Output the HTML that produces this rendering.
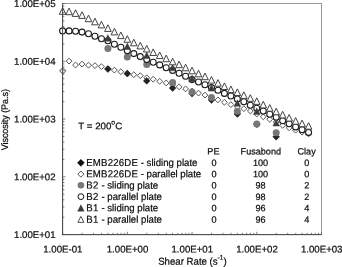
<!DOCTYPE html>
<html><head><meta charset="utf-8"><title>Viscosity vs Shear Rate</title>
<style>html,body{margin:0;padding:0;background:#fff}svg{display:block;filter:blur(0.3px)}text{font-family:"Liberation Sans",sans-serif;font-size:10px;fill:#0c0c0c;stroke:#0c0c0c;stroke-width:0.22px}</style>
</head><body>
<svg width="342" height="267" viewBox="0 0 342 267">
<rect width="342" height="267" fill="#fff"/>
<rect x="62.6" y="3.5" width="258.9" height="231.1" fill="#fff" stroke="#999" stroke-width="1"/>
<path d="M62.75 67.85L65.75 70.85L62.75 73.85L59.75 70.85Z" fill="#fff" stroke="#7c7c7c" stroke-width="1.15"/>
<path d="M69.07 58.20L71.97 61.10L69.07 64.00L66.17 61.10Z" fill="#fff" stroke="#383838" stroke-width="0.85"/>
<path d="M75.55 62.10L78.45 65.00L75.55 67.90L72.64 65.00Z" fill="#fff" stroke="#383838" stroke-width="0.85"/>
<path d="M82.02 61.20L84.92 64.10L82.02 67.00L79.12 64.10Z" fill="#fff" stroke="#383838" stroke-width="0.85"/>
<path d="M88.49 62.30L91.39 65.20L88.49 68.10L85.59 65.20Z" fill="#fff" stroke="#383838" stroke-width="0.85"/>
<path d="M94.96 62.70L97.86 65.60L94.96 68.50L92.06 65.60Z" fill="#fff" stroke="#383838" stroke-width="0.85"/>
<path d="M101.44 63.70L104.34 66.60L101.44 69.50L98.53 66.60Z" fill="#fff" stroke="#383838" stroke-width="0.85"/>
<path d="M107.91 65.70L110.81 68.60L107.91 71.50L105.01 68.60Z" fill="#fff" stroke="#383838" stroke-width="0.85"/>
<path d="M114.38 67.20L117.28 70.10L114.38 73.00L111.48 70.10Z" fill="#fff" stroke="#383838" stroke-width="0.85"/>
<path d="M120.85 68.80L123.75 71.70L120.85 74.60L117.95 71.70Z" fill="#fff" stroke="#383838" stroke-width="0.85"/>
<path d="M127.32 70.30L130.22 73.20L127.32 76.10L124.42 73.20Z" fill="#fff" stroke="#383838" stroke-width="0.85"/>
<path d="M133.80 71.80L136.70 74.70L133.80 77.60L130.90 74.70Z" fill="#fff" stroke="#383838" stroke-width="0.85"/>
<path d="M140.27 72.80L143.17 75.70L140.27 78.60L137.37 75.70Z" fill="#fff" stroke="#383838" stroke-width="0.85"/>
<path d="M146.74 74.90L149.64 77.80L146.74 80.70L143.84 77.80Z" fill="#fff" stroke="#383838" stroke-width="0.85"/>
<path d="M153.22 76.30L156.12 79.20L153.22 82.10L150.31 79.20Z" fill="#fff" stroke="#383838" stroke-width="0.85"/>
<path d="M159.69 78.40L162.59 81.30L159.69 84.20L156.79 81.30Z" fill="#fff" stroke="#383838" stroke-width="0.85"/>
<path d="M166.16 80.00L169.06 82.90L166.16 85.80L163.26 82.90Z" fill="#fff" stroke="#383838" stroke-width="0.85"/>
<path d="M172.63 82.10L175.53 85.00L172.63 87.90L169.73 85.00Z" fill="#fff" stroke="#383838" stroke-width="0.85"/>
<path d="M179.10 83.90L182.00 86.80L179.10 89.70L176.20 86.80Z" fill="#fff" stroke="#383838" stroke-width="0.85"/>
<path d="M185.58 86.00L188.48 88.90L185.58 91.80L182.68 88.90Z" fill="#fff" stroke="#383838" stroke-width="0.85"/>
<path d="M192.05 88.10L194.95 91.00L192.05 93.90L189.15 91.00Z" fill="#fff" stroke="#383838" stroke-width="0.85"/>
<path d="M198.52 90.20L201.42 93.10L198.52 96.00L195.62 93.10Z" fill="#fff" stroke="#383838" stroke-width="0.85"/>
<path d="M204.99 92.20L207.89 95.10L204.99 98.00L202.09 95.10Z" fill="#fff" stroke="#383838" stroke-width="0.85"/>
<path d="M211.47 94.60L214.37 97.50L211.47 100.40L208.57 97.50Z" fill="#fff" stroke="#383838" stroke-width="0.85"/>
<path d="M217.94 97.00L220.84 99.90L217.94 102.80L215.04 99.90Z" fill="#fff" stroke="#383838" stroke-width="0.85"/>
<path d="M224.41 99.40L227.31 102.30L224.41 105.20L221.51 102.30Z" fill="#fff" stroke="#383838" stroke-width="0.85"/>
<path d="M230.88 101.70L233.78 104.60L230.88 107.50L227.98 104.60Z" fill="#fff" stroke="#383838" stroke-width="0.85"/>
<path d="M237.36 104.10L240.26 107.00L237.36 109.90L234.46 107.00Z" fill="#fff" stroke="#383838" stroke-width="0.85"/>
<path d="M243.83 105.80L246.73 108.70L243.83 111.60L240.93 108.70Z" fill="#fff" stroke="#383838" stroke-width="0.85"/>
<path d="M250.30 108.10L253.20 111.00L250.30 113.90L247.40 111.00Z" fill="#fff" stroke="#383838" stroke-width="0.85"/>
<path d="M256.77 111.10L259.67 114.00L256.77 116.90L253.87 114.00Z" fill="#fff" stroke="#383838" stroke-width="0.85"/>
<path d="M263.25 113.90L266.15 116.80L263.25 119.70L260.35 116.80Z" fill="#fff" stroke="#383838" stroke-width="0.85"/>
<path d="M269.72 116.40L272.62 119.30L269.72 122.20L266.82 119.30Z" fill="#fff" stroke="#383838" stroke-width="0.85"/>
<path d="M276.19 119.10L279.09 122.00L276.19 124.90L273.29 122.00Z" fill="#fff" stroke="#383838" stroke-width="0.85"/>
<path d="M282.66 122.50L285.56 125.40L282.66 128.30L279.76 125.40Z" fill="#fff" stroke="#383838" stroke-width="0.85"/>
<path d="M289.14 125.00L292.04 127.90L289.14 130.80L286.24 127.90Z" fill="#fff" stroke="#383838" stroke-width="0.85"/>
<path d="M295.61 127.30L298.51 130.20L295.61 133.10L292.71 130.20Z" fill="#fff" stroke="#383838" stroke-width="0.85"/>
<path d="M302.08 129.30L304.98 132.20L302.08 135.10L299.18 132.20Z" fill="#fff" stroke="#383838" stroke-width="0.85"/>
<path d="M308.56 131.00L311.45 133.90L308.56 136.80L305.66 133.90Z" fill="#fff" stroke="#383838" stroke-width="0.85"/>
<path d="M107.91 65.70L111.31 69.10L107.91 72.50L104.51 69.10Z" fill="#222" stroke="#222" stroke-width="0.5"/>
<path d="M127.32 70.30L130.72 73.70L127.32 77.10L123.92 73.70Z" fill="#222" stroke="#222" stroke-width="0.5"/>
<path d="M146.74 77.50L150.14 80.90L146.74 84.30L143.34 80.90Z" fill="#222" stroke="#222" stroke-width="0.5"/>
<path d="M172.63 84.70L176.03 88.10L172.63 91.50L169.23 88.10Z" fill="#222" stroke="#222" stroke-width="0.5"/>
<path d="M192.05 90.30L195.45 93.70L192.05 97.10L188.65 93.70Z" fill="#222" stroke="#222" stroke-width="0.5"/>
<path d="M211.47 96.60L214.87 100.00L211.47 103.40L208.07 100.00Z" fill="#222" stroke="#222" stroke-width="0.5"/>
<path d="M237.36 110.60L240.76 114.00L237.36 117.40L233.96 114.00Z" fill="#222" stroke="#222" stroke-width="0.5"/>
<path d="M256.77 120.90L260.17 124.30L256.77 127.70L253.37 124.30Z" fill="#222" stroke="#222" stroke-width="0.5"/>
<path d="M276.19 133.40L279.59 136.80L276.19 140.20L272.79 136.80Z" fill="#222" stroke="#222" stroke-width="0.5"/>
<circle cx="107.91" cy="48.40" r="3.5" fill="#777" stroke="none" stroke-width="0"/>
<circle cx="127.32" cy="57.10" r="3.5" fill="#777" stroke="none" stroke-width="0"/>
<circle cx="146.74" cy="64.40" r="3.5" fill="#777" stroke="none" stroke-width="0"/>
<circle cx="172.63" cy="82.50" r="3.5" fill="#777" stroke="none" stroke-width="0"/>
<circle cx="192.05" cy="92.00" r="3.5" fill="#777" stroke="none" stroke-width="0"/>
<circle cx="211.47" cy="97.50" r="3.5" fill="#777" stroke="none" stroke-width="0"/>
<circle cx="237.36" cy="111.30" r="3.5" fill="#777" stroke="none" stroke-width="0"/>
<circle cx="256.77" cy="124.10" r="3.5" fill="#777" stroke="none" stroke-width="0"/>
<circle cx="276.19" cy="132.80" r="3.5" fill="#777" stroke="none" stroke-width="0"/>
<circle cx="62.60" cy="30.90" r="3.0" fill="#fff" stroke="#1a1a1a" stroke-width="1.08"/>
<circle cx="69.07" cy="30.90" r="3.0" fill="#fff" stroke="#1a1a1a" stroke-width="1.08"/>
<circle cx="75.55" cy="31.30" r="3.0" fill="#fff" stroke="#1a1a1a" stroke-width="1.08"/>
<circle cx="82.02" cy="32.10" r="3.0" fill="#fff" stroke="#1a1a1a" stroke-width="1.08"/>
<circle cx="88.49" cy="33.80" r="3.0" fill="#fff" stroke="#1a1a1a" stroke-width="1.08"/>
<circle cx="94.96" cy="36.20" r="3.0" fill="#fff" stroke="#1a1a1a" stroke-width="1.08"/>
<circle cx="101.44" cy="38.70" r="3.0" fill="#fff" stroke="#1a1a1a" stroke-width="1.08"/>
<circle cx="107.91" cy="40.80" r="3.0" fill="#fff" stroke="#1a1a1a" stroke-width="1.08"/>
<circle cx="114.38" cy="44.30" r="3.0" fill="#fff" stroke="#1a1a1a" stroke-width="1.08"/>
<circle cx="120.85" cy="47.30" r="3.0" fill="#fff" stroke="#1a1a1a" stroke-width="1.08"/>
<circle cx="127.32" cy="50.80" r="3.0" fill="#fff" stroke="#1a1a1a" stroke-width="1.08"/>
<circle cx="133.80" cy="53.60" r="3.0" fill="#fff" stroke="#1a1a1a" stroke-width="1.08"/>
<circle cx="140.27" cy="56.60" r="3.0" fill="#fff" stroke="#1a1a1a" stroke-width="1.08"/>
<circle cx="146.74" cy="59.60" r="3.0" fill="#fff" stroke="#1a1a1a" stroke-width="1.08"/>
<circle cx="153.22" cy="62.20" r="3.0" fill="#fff" stroke="#1a1a1a" stroke-width="1.08"/>
<circle cx="159.69" cy="64.90" r="3.0" fill="#fff" stroke="#1a1a1a" stroke-width="1.08"/>
<circle cx="166.16" cy="67.80" r="3.0" fill="#fff" stroke="#1a1a1a" stroke-width="1.08"/>
<circle cx="172.63" cy="70.40" r="3.0" fill="#fff" stroke="#1a1a1a" stroke-width="1.08"/>
<circle cx="179.10" cy="73.20" r="3.0" fill="#fff" stroke="#1a1a1a" stroke-width="1.08"/>
<circle cx="185.58" cy="76.30" r="3.0" fill="#fff" stroke="#1a1a1a" stroke-width="1.08"/>
<circle cx="192.05" cy="79.60" r="3.0" fill="#fff" stroke="#1a1a1a" stroke-width="1.08"/>
<circle cx="198.52" cy="82.00" r="3.0" fill="#fff" stroke="#1a1a1a" stroke-width="1.08"/>
<circle cx="204.99" cy="84.70" r="3.0" fill="#fff" stroke="#1a1a1a" stroke-width="1.08"/>
<circle cx="211.47" cy="87.60" r="3.0" fill="#fff" stroke="#1a1a1a" stroke-width="1.08"/>
<circle cx="217.94" cy="90.30" r="3.0" fill="#fff" stroke="#1a1a1a" stroke-width="1.08"/>
<circle cx="224.41" cy="93.40" r="3.0" fill="#fff" stroke="#1a1a1a" stroke-width="1.08"/>
<circle cx="230.88" cy="96.00" r="3.0" fill="#fff" stroke="#1a1a1a" stroke-width="1.08"/>
<circle cx="237.36" cy="99.00" r="3.0" fill="#fff" stroke="#1a1a1a" stroke-width="1.08"/>
<circle cx="243.83" cy="101.80" r="3.0" fill="#fff" stroke="#1a1a1a" stroke-width="1.08"/>
<circle cx="250.30" cy="105.30" r="3.0" fill="#fff" stroke="#1a1a1a" stroke-width="1.08"/>
<circle cx="256.77" cy="108.20" r="3.0" fill="#fff" stroke="#1a1a1a" stroke-width="1.08"/>
<circle cx="263.25" cy="111.00" r="3.0" fill="#fff" stroke="#1a1a1a" stroke-width="1.08"/>
<circle cx="269.72" cy="114.20" r="3.0" fill="#fff" stroke="#1a1a1a" stroke-width="1.08"/>
<circle cx="276.19" cy="117.30" r="3.0" fill="#fff" stroke="#1a1a1a" stroke-width="1.08"/>
<circle cx="282.66" cy="120.70" r="3.0" fill="#fff" stroke="#1a1a1a" stroke-width="1.08"/>
<circle cx="289.14" cy="123.80" r="3.0" fill="#fff" stroke="#1a1a1a" stroke-width="1.08"/>
<circle cx="295.61" cy="126.90" r="3.0" fill="#fff" stroke="#1a1a1a" stroke-width="1.08"/>
<circle cx="302.08" cy="129.70" r="3.0" fill="#fff" stroke="#1a1a1a" stroke-width="1.08"/>
<circle cx="308.56" cy="132.40" r="3.0" fill="#fff" stroke="#1a1a1a" stroke-width="1.08"/>
<path d="M107.91 34.60L111.21 41.20L104.61 41.20Z" fill="#3c3c3c" stroke="#3c3c3c" stroke-width="0.4" stroke-linejoin="miter"/>
<path d="M127.32 42.90L130.62 49.50L124.02 49.50Z" fill="#3c3c3c" stroke="#3c3c3c" stroke-width="0.4" stroke-linejoin="miter"/>
<path d="M146.74 52.00L150.04 58.60L143.44 58.60Z" fill="#3c3c3c" stroke="#3c3c3c" stroke-width="0.4" stroke-linejoin="miter"/>
<path d="M172.63 64.20L175.93 70.80L169.33 70.80Z" fill="#3c3c3c" stroke="#3c3c3c" stroke-width="0.4" stroke-linejoin="miter"/>
<path d="M192.05 75.10L195.35 81.70L188.75 81.70Z" fill="#3c3c3c" stroke="#3c3c3c" stroke-width="0.4" stroke-linejoin="miter"/>
<path d="M211.47 84.50L214.77 91.10L208.17 91.10Z" fill="#3c3c3c" stroke="#3c3c3c" stroke-width="0.4" stroke-linejoin="miter"/>
<path d="M237.36 99.70L240.66 106.30L234.06 106.30Z" fill="#3c3c3c" stroke="#3c3c3c" stroke-width="0.4" stroke-linejoin="miter"/>
<path d="M256.77 107.80L260.07 114.40L253.47 114.40Z" fill="#3c3c3c" stroke="#3c3c3c" stroke-width="0.4" stroke-linejoin="miter"/>
<path d="M276.19 119.50L279.49 126.10L272.89 126.10Z" fill="#3c3c3c" stroke="#3c3c3c" stroke-width="0.4" stroke-linejoin="miter"/>
<path d="M62.60 7.70L65.90 14.30L59.30 14.30Z" fill="#fff" stroke="#383838" stroke-width="0.95" stroke-linejoin="miter"/>
<path d="M69.07 8.10L72.37 14.70L65.77 14.70Z" fill="#fff" stroke="#383838" stroke-width="0.95" stroke-linejoin="miter"/>
<path d="M75.55 9.80L78.84 16.40L72.25 16.40Z" fill="#fff" stroke="#383838" stroke-width="0.95" stroke-linejoin="miter"/>
<path d="M82.02 11.80L85.32 18.40L78.72 18.40Z" fill="#fff" stroke="#383838" stroke-width="0.95" stroke-linejoin="miter"/>
<path d="M88.49 15.10L91.79 21.70L85.19 21.70Z" fill="#fff" stroke="#383838" stroke-width="0.95" stroke-linejoin="miter"/>
<path d="M94.96 18.20L98.26 24.80L91.66 24.80Z" fill="#fff" stroke="#383838" stroke-width="0.95" stroke-linejoin="miter"/>
<path d="M101.44 21.30L104.73 27.90L98.14 27.90Z" fill="#fff" stroke="#383838" stroke-width="0.95" stroke-linejoin="miter"/>
<path d="M107.91 24.80L111.21 31.40L104.61 31.40Z" fill="#fff" stroke="#383838" stroke-width="0.95" stroke-linejoin="miter"/>
<path d="M114.38 28.30L117.68 34.90L111.08 34.90Z" fill="#fff" stroke="#383838" stroke-width="0.95" stroke-linejoin="miter"/>
<path d="M120.85 32.00L124.15 38.60L117.55 38.60Z" fill="#fff" stroke="#383838" stroke-width="0.95" stroke-linejoin="miter"/>
<path d="M127.32 35.70L130.62 42.30L124.02 42.30Z" fill="#fff" stroke="#383838" stroke-width="0.95" stroke-linejoin="miter"/>
<path d="M133.80 39.20L137.10 45.80L130.50 45.80Z" fill="#fff" stroke="#383838" stroke-width="0.95" stroke-linejoin="miter"/>
<path d="M140.27 42.30L143.57 48.90L136.97 48.90Z" fill="#fff" stroke="#383838" stroke-width="0.95" stroke-linejoin="miter"/>
<path d="M146.74 45.40L150.04 52.00L143.44 52.00Z" fill="#fff" stroke="#383838" stroke-width="0.95" stroke-linejoin="miter"/>
<path d="M153.22 48.90L156.52 55.50L149.91 55.50Z" fill="#fff" stroke="#383838" stroke-width="0.95" stroke-linejoin="miter"/>
<path d="M159.69 52.00L162.99 58.60L156.39 58.60Z" fill="#fff" stroke="#383838" stroke-width="0.95" stroke-linejoin="miter"/>
<path d="M166.16 55.10L169.46 61.70L162.86 61.70Z" fill="#fff" stroke="#383838" stroke-width="0.95" stroke-linejoin="miter"/>
<path d="M172.63 58.20L175.93 64.80L169.33 64.80Z" fill="#fff" stroke="#383838" stroke-width="0.95" stroke-linejoin="miter"/>
<path d="M179.10 61.10L182.41 67.70L175.80 67.70Z" fill="#fff" stroke="#383838" stroke-width="0.95" stroke-linejoin="miter"/>
<path d="M185.58 64.20L188.88 70.80L182.28 70.80Z" fill="#fff" stroke="#383838" stroke-width="0.95" stroke-linejoin="miter"/>
<path d="M192.05 67.20L195.35 73.80L188.75 73.80Z" fill="#fff" stroke="#383838" stroke-width="0.95" stroke-linejoin="miter"/>
<path d="M198.52 70.20L201.82 76.80L195.22 76.80Z" fill="#fff" stroke="#383838" stroke-width="0.95" stroke-linejoin="miter"/>
<path d="M204.99 73.10L208.29 79.70L201.69 79.70Z" fill="#fff" stroke="#383838" stroke-width="0.95" stroke-linejoin="miter"/>
<path d="M211.47 76.50L214.77 83.10L208.17 83.10Z" fill="#fff" stroke="#383838" stroke-width="0.95" stroke-linejoin="miter"/>
<path d="M217.94 79.60L221.24 86.20L214.64 86.20Z" fill="#fff" stroke="#383838" stroke-width="0.95" stroke-linejoin="miter"/>
<path d="M224.41 82.90L227.71 89.50L221.11 89.50Z" fill="#fff" stroke="#383838" stroke-width="0.95" stroke-linejoin="miter"/>
<path d="M230.88 86.00L234.18 92.60L227.58 92.60Z" fill="#fff" stroke="#383838" stroke-width="0.95" stroke-linejoin="miter"/>
<path d="M237.36 88.90L240.66 95.50L234.06 95.50Z" fill="#fff" stroke="#383838" stroke-width="0.95" stroke-linejoin="miter"/>
<path d="M243.83 91.80L247.13 98.40L240.53 98.40Z" fill="#fff" stroke="#383838" stroke-width="0.95" stroke-linejoin="miter"/>
<path d="M250.30 94.70L253.60 101.30L247.00 101.30Z" fill="#fff" stroke="#383838" stroke-width="0.95" stroke-linejoin="miter"/>
<path d="M256.77 97.80L260.07 104.40L253.47 104.40Z" fill="#fff" stroke="#383838" stroke-width="0.95" stroke-linejoin="miter"/>
<path d="M263.25 101.30L266.55 107.90L259.95 107.90Z" fill="#fff" stroke="#383838" stroke-width="0.95" stroke-linejoin="miter"/>
<path d="M269.72 104.60L273.02 111.20L266.42 111.20Z" fill="#fff" stroke="#383838" stroke-width="0.95" stroke-linejoin="miter"/>
<path d="M276.19 108.20L279.49 114.80L272.89 114.80Z" fill="#fff" stroke="#383838" stroke-width="0.95" stroke-linejoin="miter"/>
<path d="M282.66 111.30L285.96 117.90L279.36 117.90Z" fill="#fff" stroke="#383838" stroke-width="0.95" stroke-linejoin="miter"/>
<path d="M289.14 114.50L292.44 121.10L285.84 121.10Z" fill="#fff" stroke="#383838" stroke-width="0.95" stroke-linejoin="miter"/>
<path d="M295.61 117.60L298.91 124.20L292.31 124.20Z" fill="#fff" stroke="#383838" stroke-width="0.95" stroke-linejoin="miter"/>
<path d="M302.08 120.10L305.38 126.70L298.78 126.70Z" fill="#fff" stroke="#383838" stroke-width="0.95" stroke-linejoin="miter"/>
<path d="M308.56 122.60L311.86 129.20L305.25 129.20Z" fill="#fff" stroke="#383838" stroke-width="0.95" stroke-linejoin="miter"/>
<path d="M62.60 234.6v-2.8 M62.6 234.60h2.8 M82.08 234.6v-1.8 M62.6 217.21h1.8 M93.48 234.6v-1.8 M62.6 207.03h1.8 M101.57 234.6v-1.8 M62.6 199.82h1.8 M107.84 234.6v-1.8 M62.6 194.22h1.8 M112.97 234.6v-1.8 M62.6 189.64h1.8 M117.30 234.6v-1.8 M62.6 185.77h1.8 M121.05 234.6v-1.8 M62.6 182.42h1.8 M124.36 234.6v-1.8 M62.6 179.47h1.8 M127.32 234.6v-2.8 M62.6 176.82h2.8 M146.81 234.6v-1.8 M62.6 159.43h1.8 M158.21 234.6v-1.8 M62.6 149.26h1.8 M166.29 234.6v-1.8 M62.6 142.04h1.8 M172.57 234.6v-1.8 M62.6 136.44h1.8 M177.69 234.6v-1.8 M62.6 131.87h1.8 M182.02 234.6v-1.8 M62.6 128.00h1.8 M185.78 234.6v-1.8 M62.6 124.65h1.8 M189.09 234.6v-1.8 M62.6 121.69h1.8 M192.05 234.6v-2.8 M62.6 119.05h2.8 M211.53 234.6v-1.8 M62.6 101.66h1.8 M222.93 234.6v-1.8 M62.6 91.48h1.8 M231.02 234.6v-1.8 M62.6 84.27h1.8 M237.29 234.6v-1.8 M62.6 78.67h1.8 M242.42 234.6v-1.8 M62.6 74.09h1.8 M246.75 234.6v-1.8 M62.6 70.22h1.8 M250.50 234.6v-1.8 M62.6 66.87h1.8 M253.81 234.6v-1.8 M62.6 63.92h1.8 M256.77 234.6v-2.8 M62.6 61.28h2.8 M276.26 234.6v-1.8 M62.6 43.88h1.8 M287.66 234.6v-1.8 M62.6 33.71h1.8 M295.74 234.6v-1.8 M62.6 26.49h1.8 M302.02 234.6v-1.8 M62.6 20.89h1.8 M307.14 234.6v-1.8 M62.6 16.32h1.8 M311.47 234.6v-1.8 M62.6 12.45h1.8 M315.23 234.6v-1.8 M62.6 9.10h1.8 M318.54 234.6v-1.8 M62.6 6.14h1.8 M321.5 234.6v-3 M62.6 3.5h3" stroke="#6a6a6a" stroke-width="0.85" fill="none"/>
<line x1="62.6" y1="3.5" x2="62.6" y2="235.1" stroke="#484848" stroke-width="1"/>
<line x1="62.1" y1="234.6" x2="321.5" y2="234.6" stroke="#484848" stroke-width="1"/>
<path d="M80.90 159.20L84.50 162.80L80.90 166.40L77.30 162.80Z" fill="#111" stroke="#111" stroke-width="0.3"/>
<path d="M80.90 171.05L84.00 174.15L80.90 177.25L77.80 174.15Z" fill="#fff" stroke="#333" stroke-width="0.85"/>
<circle cx="80.90" cy="185.30" r="3.3" fill="#777" stroke="none" stroke-width="0"/>
<circle cx="80.90" cy="196.65" r="2.9" fill="#fff" stroke="#111" stroke-width="1.0"/>
<path d="M80.90 204.70L84.20 211.30L77.60 211.30Z" fill="#3c3c3c" stroke="#3c3c3c" stroke-width="0.4" stroke-linejoin="miter"/>
<path d="M80.90 216.35L83.90 222.35L77.90 222.35Z" fill="#fff" stroke="#333" stroke-width="0.85" stroke-linejoin="miter"/>
<text transform="translate(55.60 6.90) rotate(0.04) scale(0.985 1)" text-anchor="end" style="font-size:9.8px">1.00E+05</text>
<text transform="translate(55.60 64.67) rotate(0.04) scale(0.985 1)" text-anchor="end" style="font-size:9.8px">1.00E+04</text>
<text transform="translate(55.60 122.45) rotate(0.04) scale(0.985 1)" text-anchor="end" style="font-size:9.8px">1.00E+03</text>
<text transform="translate(55.60 180.22) rotate(0.04) scale(0.985 1)" text-anchor="end" style="font-size:9.8px">1.00E+02</text>
<text transform="translate(55.60 238.00) rotate(0.04) scale(0.985 1)" text-anchor="end" style="font-size:9.8px">1.00E+01</text>
<text transform="translate(62.80 252.40) rotate(0.04) scale(0.985 1)" text-anchor="middle" style="font-size:9.8px">1.00E-01</text>
<text transform="translate(127.52 252.40) rotate(0.04) scale(0.985 1)" text-anchor="middle" style="font-size:9.8px">1.00E+00</text>
<text transform="translate(192.25 252.40) rotate(0.04) scale(0.985 1)" text-anchor="middle" style="font-size:9.8px">1.00E+01</text>
<text transform="translate(256.97 252.40) rotate(0.04) scale(0.985 1)" text-anchor="middle" style="font-size:9.8px">1.00E+02</text>
<text transform="translate(321.70 252.40) rotate(0.04) scale(0.985 1)" text-anchor="middle" style="font-size:9.8px">1.00E+03</text>
<text transform="translate(192.40 264.70) rotate(0.04) scale(0.955 1)" text-anchor="middle" style="font-size:10.1px">Shear Rate (s<tspan dy="-4.9" style="font-size:6.8px">-1</tspan><tspan dy="4.9">)</tspan></text>
<text transform="translate(7.9 119.7) rotate(-90.04) scale(0.94 1)" text-anchor="middle" style="font-size:9.5px">Viscosity (Pa.s)</text>
<text transform="translate(78.30 129.30) rotate(0.04) scale(1.02 1)" text-anchor="start" style="font-size:9.55px">T = 200<tspan dy="-4.9" style="font-size:6.8px">o</tspan><tspan dy="4.9">C</tspan></text>
<text transform="translate(213.40 154.55) rotate(0.04) scale(0.99 1)" text-anchor="middle" style="font-size:9.2px">PE</text>
<text transform="translate(260.80 154.55) rotate(0.04) scale(0.99 1)" text-anchor="middle" style="font-size:9.2px">Fusabond</text>
<text transform="translate(306.60 154.55) rotate(0.04) scale(0.99 1)" text-anchor="middle" style="font-size:9.2px">Clay</text>
<text transform="translate(86.20 165.90) rotate(0.04) scale(0.955 1)" text-anchor="start" style="font-size:10.1px"><tspan letter-spacing="0.2">EMB226DE</tspan> - sliding plate</text>
<text transform="translate(214.00 165.90) rotate(0.04) scale(0.99 1)" text-anchor="middle" style="font-size:9.2px">0</text>
<text transform="translate(260.50 165.90) rotate(0.04) scale(0.99 1)" text-anchor="middle" style="font-size:9.2px">100</text>
<text transform="translate(306.70 165.90) rotate(0.04) scale(0.99 1)" text-anchor="middle" style="font-size:9.2px">0</text>
<text transform="translate(86.20 177.25) rotate(0.04) scale(0.955 1)" text-anchor="start" style="font-size:10.1px"><tspan letter-spacing="0.2">EMB226DE</tspan> - parallel plate</text>
<text transform="translate(214.00 177.25) rotate(0.04) scale(0.99 1)" text-anchor="middle" style="font-size:9.2px">0</text>
<text transform="translate(260.50 177.25) rotate(0.04) scale(0.99 1)" text-anchor="middle" style="font-size:9.2px">100</text>
<text transform="translate(306.70 177.25) rotate(0.04) scale(0.99 1)" text-anchor="middle" style="font-size:9.2px">0</text>
<text transform="translate(86.20 188.60) rotate(0.04) scale(0.955 1)" text-anchor="start" style="font-size:10.1px"><tspan letter-spacing="0.4">B2</tspan> - sliding plate</text>
<text transform="translate(214.00 188.60) rotate(0.04) scale(0.99 1)" text-anchor="middle" style="font-size:9.2px">0</text>
<text transform="translate(260.50 188.60) rotate(0.04) scale(0.99 1)" text-anchor="middle" style="font-size:9.2px">98</text>
<text transform="translate(306.70 188.60) rotate(0.04) scale(0.99 1)" text-anchor="middle" style="font-size:9.2px">2</text>
<text transform="translate(86.20 199.95) rotate(0.04) scale(0.955 1)" text-anchor="start" style="font-size:10.1px"><tspan letter-spacing="0.4">B2</tspan> - parallel plate</text>
<text transform="translate(214.00 199.95) rotate(0.04) scale(0.99 1)" text-anchor="middle" style="font-size:9.2px">0</text>
<text transform="translate(260.50 199.95) rotate(0.04) scale(0.99 1)" text-anchor="middle" style="font-size:9.2px">98</text>
<text transform="translate(306.70 199.95) rotate(0.04) scale(0.99 1)" text-anchor="middle" style="font-size:9.2px">2</text>
<text transform="translate(86.20 211.30) rotate(0.04) scale(0.955 1)" text-anchor="start" style="font-size:10.1px"><tspan letter-spacing="0.4">B1</tspan> - sliding plate</text>
<text transform="translate(214.00 211.30) rotate(0.04) scale(0.99 1)" text-anchor="middle" style="font-size:9.2px">0</text>
<text transform="translate(260.50 211.30) rotate(0.04) scale(0.99 1)" text-anchor="middle" style="font-size:9.2px">96</text>
<text transform="translate(306.70 211.30) rotate(0.04) scale(0.99 1)" text-anchor="middle" style="font-size:9.2px">4</text>
<text transform="translate(86.20 222.65) rotate(0.04) scale(0.955 1)" text-anchor="start" style="font-size:10.1px"><tspan letter-spacing="0.4">B1</tspan> - parallel plate</text>
<text transform="translate(214.00 222.65) rotate(0.04) scale(0.99 1)" text-anchor="middle" style="font-size:9.2px">0</text>
<text transform="translate(260.50 222.65) rotate(0.04) scale(0.99 1)" text-anchor="middle" style="font-size:9.2px">96</text>
<text transform="translate(306.70 222.65) rotate(0.04) scale(0.99 1)" text-anchor="middle" style="font-size:9.2px">4</text>
</svg>
</body></html>
